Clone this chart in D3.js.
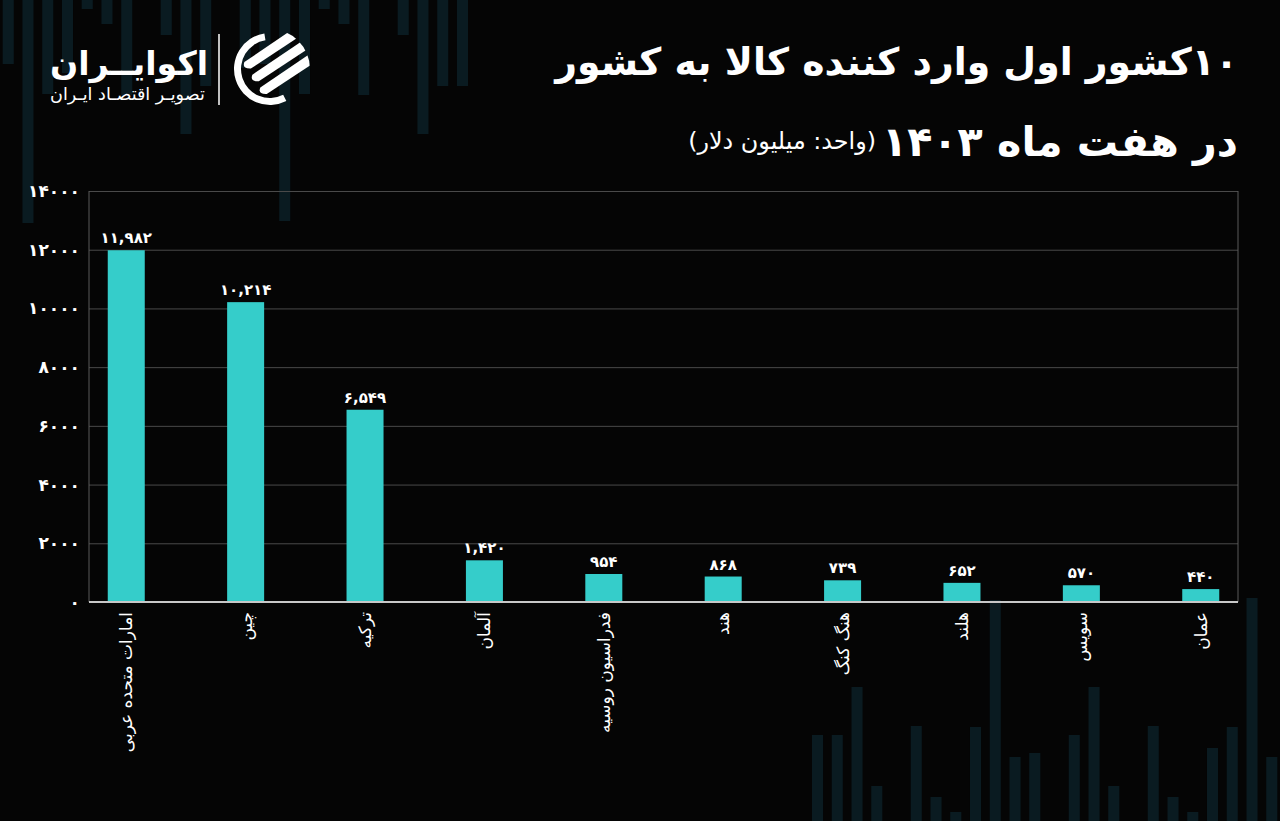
<!DOCTYPE html>
<html><head><meta charset="utf-8">
<script src="https://cdn.jsdelivr.net/npm/d3@7"></script>
<style>html,body{margin:0;padding:0;background:#050505;} svg{display:block;}</style>
</head><body>
<svg id="chart" width="1280" height="821"></svg>
<script>
const categories = ["امارات متحده عربی","چین","ترکیه","آلمان","فدراسیون روسیه","هند","هنگ کنگ","هلند","سویس","عمان"];
const values = [11982,10214,6549,1420,954,868,739,652,570,440];
const yTicks = [0,2000,4000,6000,8000,10000,12000,14000];
const titleLine1 = "۱۰کشور اول وارد کننده کالا به کشور";
const titleLine2 = "در هفت ماه ۱۴۰۳";
const unitLabel = "(واحد: میلیون دلار)";
const brandName = "اکوایــران";
const brandTagline = "تصویـر اقتصـاد ایـران";
const stripeLengths = [86,86,134,35,0,95,24,9,94,221,64,68,0,86,134,35,0,95,24,9,73,94,223,64];

const toFa = s => String(s).replace(/\d/g, d => "۰۱۲۳۴۵۶۷۸۹"[d]);
const W = 1280, H = 821;
const FONT = "'DejaVu Sans', sans-serif";
const svg = d3.select("#chart");
svg.append("rect").attr("width", W).attr("height", H).attr("fill", "#050505");

// decorative background stripes
const sx = d3.scaleBand().domain(d3.range(stripeLengths.length)).range([812, 1277.3]).paddingInner(0.44).paddingOuter(0);
function stripes(g) {
  g.selectAll("rect").data(stripeLengths).join("rect")
    .attr("x", (d, i) => sx(i)).attr("width", sx.bandwidth())
    .attr("y", d => H - d).attr("height", d => d)
    .attr("fill", "#0a1b21");
}
svg.append("g").call(stripes);
svg.append("g").attr("transform", `rotate(180 ${W / 2} ${H / 2})`).call(stripes);

// scales
const plot = {left: 89, right: 1238, top: 191, bottom: 602};
const y = d3.scaleLinear().domain([0, 14000]).range([plot.bottom, plot.top]);
const x = d3.scaleBand().domain(categories).range([plot.left, plot.right]).paddingInner(0.69).paddingOuter(0.157);

// grid + y axis
const yAxis = svg.append("g").attr("transform", `translate(${plot.left},0)`)
  .call(d3.axisLeft(y).tickValues(yTicks).tickFormat(d => toFa(d)).tickSize(-(plot.right - plot.left)).tickPadding(9));
yAxis.select(".domain").remove();
yAxis.selectAll(".tick line").attr("stroke", "#4a4a4a").attr("stroke-width", 1);
yAxis.selectAll(".tick text").attr("fill", "#ffffff").attr("font-family", FONT)
  .attr("font-size", 17).attr("font-weight", "bold");

// frame sides
svg.append("line").attr("x1", plot.left).attr("x2", plot.left).attr("y1", plot.top).attr("y2", plot.bottom).attr("stroke", "#5a5a5a");
svg.append("line").attr("x1", plot.right).attr("x2", plot.right).attr("y1", plot.top).attr("y2", plot.bottom).attr("stroke", "#5a5a5a");

// bars
svg.append("g").selectAll("rect").data(values).join("rect")
  .attr("x", (d, i) => x(categories[i])).attr("width", x.bandwidth())
  .attr("y", d => y(d)).attr("height", d => y(0) - y(d))
  .attr("fill", "#35cdca");

// baseline
svg.append("line").attr("x1", plot.left).attr("x2", plot.right).attr("y1", y(0)).attr("y2", y(0))
  .attr("stroke", "#c8c8c8").attr("stroke-width", 2);

// value labels
svg.append("g").selectAll("text").data(values).join("text")
  .attr("x", (d, i) => x(categories[i]) + x.bandwidth() / 2)
  .attr("y", d => y(d) - 7)
  .attr("text-anchor", "middle").attr("fill", "#fff")
  .attr("font-family", FONT).attr("font-size", 15).attr("font-weight", "bold")
  .text(d => toFa(d3.format(",")(d)));

// category labels (rotated)
const catG = svg.append("g");
categories.forEach(c => {
  const t = catG.append("text").attr("direction", "rtl").attr("text-anchor", "middle")
    .attr("fill", "#fff").attr("font-family", FONT).attr("font-size", 17)
    .attr("dy", "0.35em").text(c);
  const len = t.node().getComputedTextLength();
  t.attr("transform", `translate(${x(c) + x.bandwidth() / 2},${y(0) + 10 + len / 2}) rotate(-90)`);
});

// text fitting helper
function fitText(str, opts) {
  const t = svg.append("text").attr("direction", "rtl").attr("text-anchor", "middle")
    .attr("fill", "#fff").attr("font-family", FONT).attr("font-size", opts.size)
    .attr("font-weight", opts.weight || "normal").attr("y", opts.baseline).text(str);
  let w = t.node().getComputedTextLength();
  if (opts.width) {
    const fs = opts.size * opts.width / w;
    t.attr("font-size", Math.min(fs, opts.maxSize || 999));
    w = t.node().getComputedTextLength();
  }
  if (opts.right !== undefined) t.attr("x", opts.right - w / 2);
  else t.attr("x", opts.left + w / 2);
  return {node: t, width: w};
}

// titles
fitText(titleLine1, {size: 36, weight: "bold", baseline: 75, right: 1238, width: 683, maxSize: 42});
const l2 = fitText(titleLine2, {size: 36, weight: "bold", baseline: 156, right: 1238, width: 356, maxSize: 46});
fitText(unitLabel, {size: 18, baseline: 149, right: 1238 - l2.width - 6, width: 188, maxSize: 24});

// brand
fitText(brandName, {size: 36, weight: "bold", baseline: 75, left: 50, width: 158, maxSize: 46});
fitText(brandTagline, {size: 18, baseline: 100, left: 50, width: 155, maxSize: 22});
svg.append("line").attr("x1", 219).attr("x2", 219).attr("y1", 34).attr("y2", 105).attr("stroke", "#fff").attr("stroke-width", 1.5);

// brand icon
const cx = 270, cy = 69, R = 36;
svg.append("defs").append("clipPath").attr("id", "iconClip")
  .append("circle").attr("cx", cx).attr("cy", cy).attr("r", R + 4);
const icon = svg.append("g");
icon.append("path")
  .attr("transform", `translate(${cx},${cy})`)
  .attr("d", d3.arc().innerRadius(R - 7).outerRadius(R).startAngle(Math.PI * 0.85).endAngle(Math.PI * 1.95)())
  .attr("fill", "#fff");
const stripeG = icon.append("g").attr("clip-path", "url(#iconClip)")
  .append("g").attr("transform", `translate(${cx},${cy}) rotate(-32)`);
[-15, 0, 15].forEach((o, i) => {
  stripeG.append("path")
    .attr("d", `M${-18},${o - 4.5} L48,${o - 7} L44,${o + 3} L${-16},${o + 4.5} Q${-24},${o} ${-18},${o - 4.5}Z`)
    .attr("fill", "#fff");
});
</script>
</body></html>
